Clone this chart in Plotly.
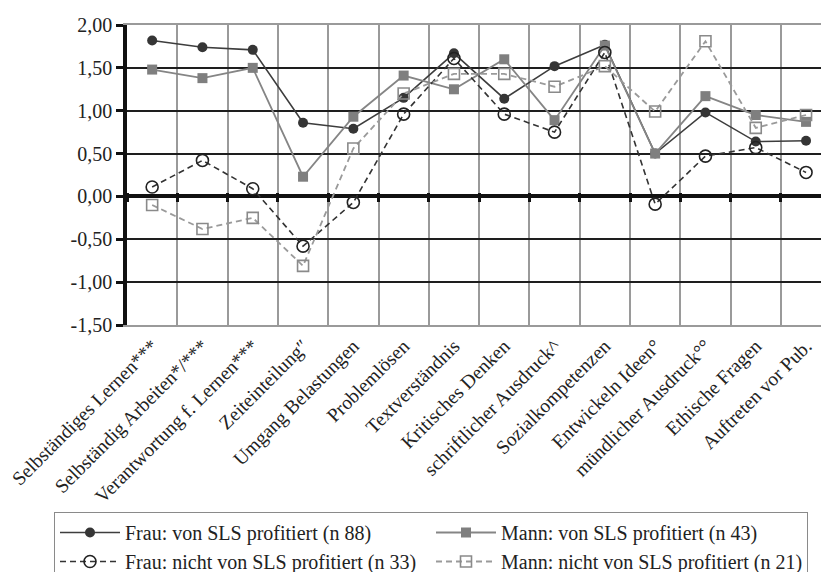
import plotly.graph_objects as go

categories = [
    "Selbständiges Lernen***", "Selbständig Arbeiten*/***", "Verantwortung f. Lernen***",
    "Zeiteinteilung\u2033", "Umgang Belastungen", "Problemlösen", "Textverständnis",
    "Kritisches Denken", "schriftlicher Ausdruck^", "Sozialkompetenzen",
    "Entwickeln Ideen°", "mündlicher Ausdruck°°", "Ethische Fragen", "Auftreten vor Pub.",
]
frau_profit = [1.82, 1.74, 1.71, 0.86, 0.79, 1.15, 1.67, 1.14, 1.52, 1.77, 0.50, 0.98, 0.64, 0.65]
mann_profit = [1.48, 1.38, 1.50, 0.23, 0.93, 1.41, 1.25, 1.60, 0.89, 1.76, 0.50, 1.17, 0.95, 0.87]
frau_nicht = [0.11, 0.42, 0.09, -0.58, -0.07, 0.96, 1.61, 0.96, 0.75, 1.68, -0.09, 0.47, 0.57, 0.28]
mann_nicht = [-0.10, -0.38, -0.25, -0.81, 0.56, 1.20, 1.43, 1.43, 1.28, 1.52, 0.99, 1.81, 0.80, 0.95]
y_ticks = [-1.5, -1.0, -0.5, 0.0, 0.5, 1.0, 1.5, 2.0]
y_ticktext = [f"{v:.2f}".replace(".", ",") for v in y_ticks]

# page body has an 8px margin -> figure coordinates = screen coordinates - 8
OFF = 8
W, H = 829, 572
ML, MT = 127 - OFF, 25 - OFF
plot_h = 300
MB = H - MT - plot_h
MR = 0
plot_w = W - ML - MR
cat_w = 50.3
x_range = [-0.5, -0.5 + plot_w / cat_w]
y_range = [-1.5, 2.0]

FONT = "Liberation Serif"

fig = go.Figure()
fig.add_trace(go.Scatter(
    x=categories, y=frau_profit, name="Frau: von SLS profitiert (n 88)",
    mode="lines+markers", line=dict(color="#3d3d3d", width=1.6),
    marker=dict(symbol="circle", size=10, color="#353535"),
))
fig.add_trace(go.Scatter(
    x=categories, y=mann_profit, name="Mann: von SLS profitiert (n 43)",
    mode="lines+markers", line=dict(color="#858585", width=1.8),
    marker=dict(symbol="square", size=10, color="#7f7f7f"),
))
fig.add_trace(go.Scatter(
    x=categories, y=frau_nicht, name="Frau: nicht von SLS profitiert (n 33)",
    mode="lines+markers", line=dict(color="#333333", width=1.6, dash="6px,4px"),
    marker=dict(symbol="circle-open", size=12, color="#222222", line=dict(width=1.6)),
))
fig.add_trace(go.Scatter(
    x=categories, y=mann_nicht, name="Mann: nicht von SLS profitiert (n 21)",
    mode="lines+markers", line=dict(color="#9a9a9a", width=1.8, dash="6px,4px"),
    marker=dict(symbol="square-open", size=11, color="#8a8a8a", line=dict(width=1.6)),
))
# invisible helper trace for the tick marks on the zero axis
fig.add_trace(go.Scatter(
    x=categories, y=frau_profit, xaxis="x2", mode="markers",
    marker=dict(opacity=0), showlegend=False, hoverinfo="skip",
))

zero_frac = (0 - y_range[0]) / (y_range[1] - y_range[0])

fig.update_layout(
    width=W, height=H,
    margin=dict(l=ML, r=MR, t=MT, b=MB, autoexpand=False),
    paper_bgcolor="white", plot_bgcolor="white",
    font=dict(family=FONT, size=18, color="#222222"),
    showlegend=True,
    legend=dict(
        orientation="h",
        x=(54 - OFF - ML) / plot_w, xanchor="left",
        y=-(512 - OFF - MT - plot_h) / plot_h, yanchor="top",
        bordercolor="#8a8a8a", borderwidth=1, bgcolor="white",
        font=dict(family=FONT, size=20, color="#222222"),
        entrywidth=301, entrywidthmode="pixels",
        tracegroupgap=0, itemwidth=60,
    ),
    xaxis=dict(
        type="category", categoryorder="array", categoryarray=categories,
        range=x_range, tickson="boundaries", ticks="", automargin=False,
        showgrid=True, gridcolor="#9a9a9a", gridwidth=2,
        showline=True, linecolor="#9a9a9a", linewidth=2, mirror=True,
        tickangle=-45, tickfont=dict(family=FONT, size=19.5, color="#222222"),
        zeroline=False,
    ),
    xaxis2=dict(
        type="category", categoryorder="array", categoryarray=categories,
        range=x_range, tickson="boundaries", overlaying="x", automargin=False,
        anchor="free", position=zero_frac + 4.5 / plot_h, side="bottom",
        ticks="outside", ticklen=9, tickwidth=3, tickcolor="#111111",
        showticklabels=False, showgrid=False, showline=False, zeroline=False,
    ),
    yaxis=dict(
        range=y_range, tickvals=y_ticks, ticktext=y_ticktext, automargin=False,
        showgrid=True, gridcolor="#1e1e1e", gridwidth=1.6,
        zeroline=True, zerolinecolor="#111111", zerolinewidth=3.5,
        showline=True, linecolor="#111111", linewidth=3.5,
        ticks="outside", ticklen=7, tickwidth=3, tickcolor="#111111",
        tickfont=dict(family=FONT, size=20, color="#222222"),
    ),
    shapes=[
        dict(type="line", xref="paper", yref="paper",
             x0=(4 - OFF - ML) / plot_w, x1=(4 - OFF - ML) / plot_w,
             y0=(plot_h + MT - 7 + OFF) / plot_h, y1=-(H - MT - plot_h) / plot_h,
             line=dict(color="#333333", width=1.2)),
    ],
)

fig.write_html("out.html")
